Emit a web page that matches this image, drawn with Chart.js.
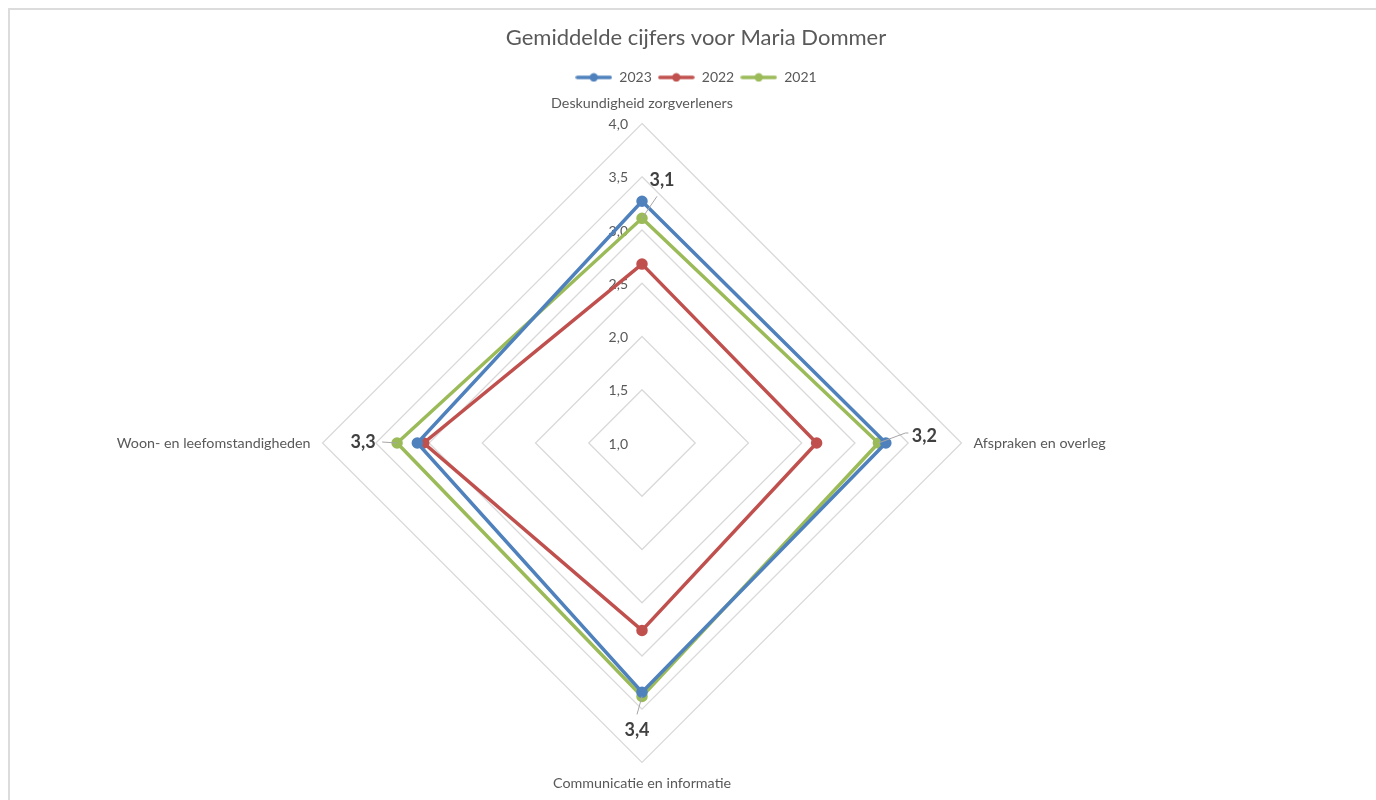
<!DOCTYPE html>
<html>
<head>
<meta charset="utf-8">
<title>Gemiddelde cijfers</title>
<script src="https://cdn.jsdelivr.net/npm/chart.js@4/dist/chart.umd.min.js"></script>
<style>
    html, body { margin: 0; padding: 0; background: #fff; overflow: hidden; }
    #wrap { position: relative; width: 1376px; height: 800px; }
    #frame { position: absolute; left: 8px; top: 8px; width: 1400px; height: 820px; border: 2px solid #dcdcdc; box-sizing: border-box; }
    #radar { position: absolute; left: 0; top: 0; }
</style>
</head>
<body>
<div id="wrap">
    <div id="frame"></div>
    <canvas id="radar" width="1376" height="800"></canvas>
</div>
<script>
// data
var categories = ['Deskundigheid zorgverleners', 'Afspraken en overleg', 'Communicatie en informatie', 'Woon- en leefomstandigheden'];
var jaren = ['2023', '2022', '2021'];
var cijfers2023 = [3.27, 3.29, 3.34, 3.11];
var cijfers2022 = [2.68, 2.64, 2.76, 3.05];
var cijfers2021 = [3.11, 3.22, 3.38, 3.30];
var tickWaarden = [1.0, 1.5, 2.0, 2.5, 3.0, 3.5, 4.0];

var kleuren = ['#4F81BD', '#C0504D', '#9BBB59'];
var fontFam = 'Lato, "Open Sans", sans-serif';
var tekstKleur = '#595959';

function komma(v, d) {
    return v.toFixed(d).replace('.', ',');
}

// little line+dot marker like the excel legend
function legendMarker(kleur) {
    var c = document.createElement('canvas');
    c.width = 37; c.height = 10;
    var x = c.getContext('2d');
    x.strokeStyle = kleur;
    x.lineWidth = 3.5;
    x.lineCap = 'round';
    x.beginPath(); x.moveTo(2, 5); x.lineTo(35, 5); x.stroke();
    x.fillStyle = kleur;
    x.beginPath(); x.arc(18.5, 5, 4.2, 0, Math.PI * 2); x.fill();
    return c;
}

// tick labels left of the vertical axis (drawn under the lines)
var tickPlugin = {
    id: 'tickLabels',
    beforeDatasetsDraw: function(chart) {
        var r = chart.scales.r, ctx = chart.ctx;
        ctx.save();
        ctx.font = '14px ' + fontFam;
        ctx.fillStyle = tekstKleur;
        ctx.textAlign = 'right';
        ctx.textBaseline = 'middle';
        tickWaarden.forEach(function(v) {
            var d = r.getDistanceFromCenterForValue(v);
            ctx.fillText(komma(v, 1), r.xCenter - 14, r.yCenter - d + 1);
        });
        ctx.restore();
    }
};

// data labels for 2021 with a leader line
var labelOffsets = [
    { dx: 20, dy: -38, lx: 15, ly: -22 },
    { dx: 46, dy: -7, lx: 27, ly: -10 },
    { dx: -5, dy: 34, lx: -5, ly: 18 },
    { dx: -34, dy: -1, lx: -15, ly: -1 }
];
var dataLabelPlugin = {
    id: 'dataLabels',
    afterDatasetsDraw: function(chart) {
        var meta = chart.getDatasetMeta(2), ctx = chart.ctx;
        ctx.save();
        meta.data.forEach(function(pt, i) {
            var o = labelOffsets[i];
            ctx.strokeStyle = '#a6a6a6';
            ctx.lineWidth = 1;
            ctx.beginPath();
            ctx.moveTo(pt.x, pt.y);
            ctx.lineTo(pt.x + o.lx, pt.y + o.ly);
            if (i == 1) ctx.lineTo(pt.x + o.lx + 3, pt.y + o.ly);
            ctx.stroke();
            ctx.font = 'bold 18px ' + fontFam;
            ctx.fillStyle = '#404040';
            ctx.textAlign = 'center';
            ctx.textBaseline = 'middle';
            ctx.fillText(komma(cijfers2021[i], 1), pt.x + o.dx, pt.y + o.dy);
        });
        ctx.restore();
    }
};

var reeksen = [cijfers2023, cijfers2022, cijfers2021];
var datasets = [];
jaren.forEach(function(j, i) {
    datasets.push({
        label: j,
        data: reeksen[i],
        borderColor: kleuren[i],
        backgroundColor: kleuren[i],
        pointBackgroundColor: kleuren[i],
        pointBorderColor: kleuren[i],
        borderWidth: 3.5,
        pointRadius: 4,
        fill: false
    });
});

var ctx = document.getElementById('radar').getContext('2d');
var myRadar = new Chart(ctx, {
    type: 'radar',
    data: { labels: categories, datasets: datasets },
    plugins: [tickPlugin, dataLabelPlugin],
    options: {
        responsive: false,
        animation: false,
        layout: { padding: { top: 0, bottom: 8, left: 16, right: 0 } },
        plugins: {
            title: {
                display: true,
                text: 'Gemiddelde cijfers voor Maria Dommer',
                color: tekstKleur,
                font: { family: fontFam, size: 22, weight: 'normal' },
                padding: { top: 25, bottom: 13 }
            },
            legend: {
                display: true,
                labels: {
                    color: tekstKleur,
                    font: { family: fontFam, size: 14 },
                    usePointStyle: true,
                    pointStyleWidth: 37,
                    padding: 6,
                    generateLabels: function(chart) {
                        var items = Chart.defaults.plugins.legend.labels.generateLabels(chart);
                        items.forEach(function(it, i) { it.pointStyle = legendMarker(kleuren[i]); });
                        return items;
                    }
                }
            },
            tooltip: { enabled: false }
        },
        scales: {
            r: {
                min: 1,
                max: 4,
                ticks: { stepSize: 0.5, display: false },
                grid: { color: '#d9d9d9', lineWidth: 1.3 },
                angleLines: { display: false },
                pointLabels: {
                    color: tekstKleur,
                    font: { family: fontFam, size: 14.3 },
                    padding: 12
                },
                // plot area sits a bit left of the page centre
                afterFit: function(scale) {
                    var dx = 642 - scale.xCenter;
                    scale.xCenter += dx;
                    (scale._pointLabelItems || []).forEach(function(it) {
                        it.x += dx; it.left += dx; it.right += dx;
                    });
                }
            }
        }
    }
});
</script>
</body>
</html>
